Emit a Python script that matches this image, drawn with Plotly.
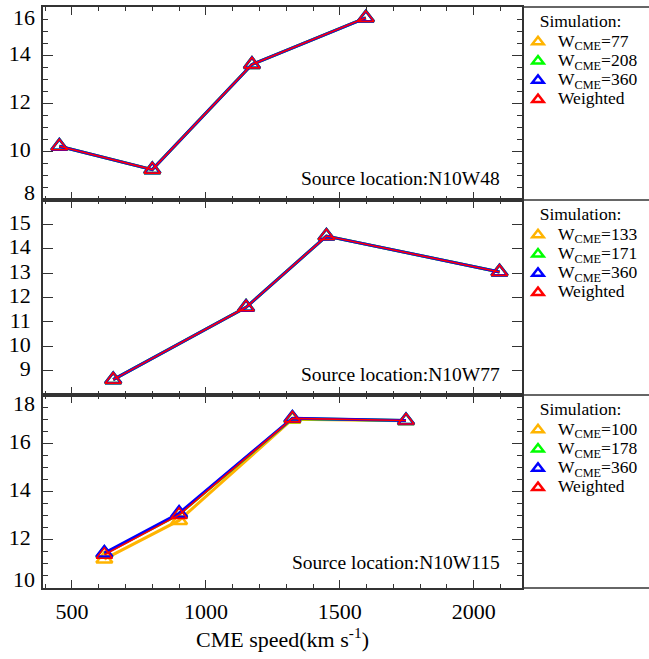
import plotly.graph_objects as go
from plotly.subplots import make_subplots

# ---------------- data ----------------
series_names = ["W<sub>CME</sub>", "W<sub>CME</sub>", "W<sub>CME</sub>", "Weighted"]
colors = ["#FFB400", "#00FF00", "#0000FF", "#FF0000"]

# Panel 1: Source location N10W48
p1_location = "Source location:N10W48"
p1_widths = ["77", "208", "360"]
p1_speed = [453, 800, 1172, 1597]
p1_w1 = [10.23, 9.26, 13.62, 15.55]
p1_w2 = [10.23, 9.26, 13.62, 15.55]
p1_w3 = [10.23, 9.26, 13.62, 15.55]
p1_wt = [10.23, 9.26, 13.62, 15.55]

# Panel 2: Source location N10W77
p2_location = "Source location:N10W77"
p2_widths = ["133", "171", "360"]
p2_speed = [654, 1150, 1450, 2096]
p2_w1 = [8.63, 11.60, 14.52, 13.05]
p2_w2 = [8.63, 11.60, 14.52, 13.05]
p2_w3 = [8.63, 11.60, 14.52, 13.05]
p2_wt = [8.63, 11.60, 14.52, 13.05]

# Panel 3: Source location N10W115
p3_location = "Source location:N10W115"
p3_widths = ["100", "178", "360"]
p3_speed = [621, 900, 1323, 1747]
p3_w1 = [11.20, 12.80, 17.00, 16.93]
p3_w2 = [11.42, 13.06, 17.03, 16.94]
p3_w3 = [11.45, 13.10, 17.04, 16.94]
p3_wt = [11.38, 13.03, 17.03, 16.94]

x_ticks = [500, 1000, 1500, 2000]
y1_ticks = [10, 12, 14]
y1_edge = [8, 16]
y2_ticks = [9, 10, 11, 12, 13, 14, 15]
y3_ticks = [12, 14, 16]
y3_edge = [10, 18]

x_title = "CME speed(km s<sup>-1</sup>)"
legend_title = "Simulation:"

# ---------------- figure ----------------
FONT = "Liberation Serif"
AX = "#333333"
LEGPX = 17.5

fig = make_subplots(rows=3, cols=1, shared_xaxes=True, vertical_spacing=0,
                    row_heights=[193, 195, 193])

panels = [
    (1, p1_speed, [p1_w1, p1_w2, p1_w3, p1_wt], p1_widths, "legend"),
    (2, p2_speed, [p2_w1, p2_w2, p2_w3, p2_wt], p2_widths, "legend2"),
    (3, p3_speed, [p3_w1, p3_w2, p3_w3, p3_wt], p3_widths, "legend3"),
]

def big(t):
    return f'<span style="font-size:{LEGPX}px">{t}</span>'

for row, spd, ys, widths, lg in panels:
    for i, (yv, c) in enumerate(zip(ys, colors)):
        fig.add_trace(go.Scatter(
            x=spd, y=yv, mode="lines+markers",
            line=dict(color=c, width=1.6 if i == 3 else 3),
            marker=dict(symbol="triangle-up-open", size=14, color=c,
                        line=dict(color=c, width=1.6 if i == 3 else 2.6)),
            showlegend=False, hoverinfo="skip"), row=row, col=1)
    labels = [f"{series_names[k]}={widths[k]}" for k in range(3)] + [series_names[3]]
    for lab, c in zip(labels, colors):
        fig.add_trace(go.Scatter(
            x=[None], y=[None], mode="markers", name=big(lab),
            marker=dict(symbol="triangle-up-open", size=10, color=c,
                        line=dict(color=c, width=2.5)),
            legend=lg, showlegend=True), row=row, col=1)

tickfont = dict(family=FONT, size=22, color="black")
common = dict(showline=True, linecolor=AX, linewidth=1.5, mirror="allticks",
              ticks="inside", tickcolor=AX, tickwidth=1, showgrid=False,
              zeroline=False, tickfont=tickfont)

for k in (1, 2, 3):
    fig.update_xaxes(range=[392, 2180], tickvals=x_ticks, ticklen=8,
                     minor=dict(dtick=100, tick0=0, ticks="inside", ticklen=4,
                                tickcolor=AX),
                     row=k, col=1, **common)
fig.update_xaxes(ticklabelstandoff=3, row=3, col=1,
                 title=dict(text=x_title, font=dict(family=FONT, size=22, color="black"),
                            standoff=2))

fig.update_yaxes(range=[8, 16], tickvals=y1_ticks,
                 ticklen=10, minor=dict(dtick=0.5, tick0=0, ticks="inside", ticklen=5, tickcolor=AX),
                 ticklabelstandoff=6, ticklabelshift=-2, row=1, col=1, **common)
fig.update_yaxes(range=[8, 16], tickvals=y2_ticks,
                 ticklen=10, ticklabelstandoff=6, ticklabelshift=-2, row=2, col=1, **common)
fig.update_yaxes(range=[10, 18], tickvals=y3_ticks,
                 ticklen=10, minor=dict(dtick=0.5, tick0=0, ticks="inside", ticklen=5, tickcolor=AX),
                 ticklabelstandoff=6, ticklabelshift=-2, row=3, col=1, **common)

annotations = []
# edge tick labels pulled inward
edge = [("y", y1_edge[0], 8), ("y", y1_edge[1], -10),
        ("y3", y3_edge[0], 9), ("y3", y3_edge[1], -8)]
for yr, v, sh in edge:
    annotations.append(dict(x=0, xref="paper", y=v, yref=yr, text=str(v),
                            xanchor="right", yanchor="middle", xshift=-6, yshift=sh,
                            showarrow=False, font=tickfont))
# source location labels
for yr, txt, yy in [("y domain", p1_location, 0.11), ("y2 domain", p2_location, 0.103),
                    ("y3 domain", p3_location, 0.13)]:
    annotations.append(dict(x=0.958, xref="paper", y=yy, yref=yr, text=txt,
                            xanchor="right", yanchor="middle", showarrow=False,
                            font=dict(family=FONT, size=19.5, color="black")))

# frame lines of the legend column
H = 581.0
W = 479.0
shapes = []
for ypx in (7, 200, 395, 588):
    yp = (588 - ypx) / H
    shapes.append(dict(type="line", xref="paper", yref="paper", x0=1, x1=(649 - 43) / W,
                       y0=yp, y1=yp, line=dict(color=AX, width=1.5)))

def leg(toppx):
    return dict(x=(518 - 43) / W, xanchor="left", y=(588 - toppx) / H, yanchor="top",
                bgcolor="rgba(0,0,0,0)", borderwidth=0,
                font=dict(family=FONT, size=12.5, color="black"),
                title=dict(text=big(legend_title), side="top center",
                           font=dict(family=FONT, size=14, color="black")),
                itemwidth=30, tracegroupgap=0)

fig.update_layout(
    width=649, height=659,
    margin=dict(l=43, r=127, t=7, b=71, autoexpand=False),
    paper_bgcolor="white", plot_bgcolor="white",
    legend=leg(9), legend2=leg(202), legend3=leg(397),
    annotations=annotations, shapes=shapes,
)

fig.write_html("out.html")
